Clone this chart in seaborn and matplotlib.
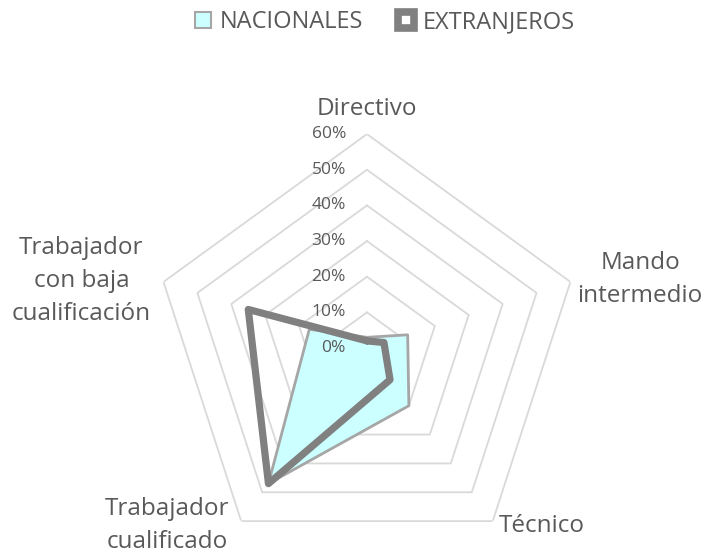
import numpy as np
import pandas as pd
import seaborn as sns
import matplotlib.pyplot as plt
from matplotlib.lines import Line2D

# %% Data
categories = ["Directivo", "Mando\nintermedio", "Técnico",
              "Trabajador\ncualificado", "Trabajador\ncon baja\ncualificación"]
nacionales = [0.03, 0.12, 0.20, 0.47, 0.17]
extranjeros = [0.02, 0.05, 0.11, 0.47, 0.35]
tick_values = [0.0, 0.1, 0.2, 0.3, 0.4, 0.5, 0.6]
tick_labels = ["0%", "10%", "20%", "30%", "40%", "50%", "60%"]

# %% Style
sns.set_theme(style="white")
plt.rcParams["font.family"] = ["Open Sans", "DejaVu Sans"]
text_col = "#595959"
grid_col = "#d9d9d9"

n = len(categories)
# clockwise from the top, like the Excel radar chart
angles = np.pi / 2 - np.arange(n) * 2 * np.pi / n
closed = np.append(angles, angles[0])

df = pd.DataFrame({
    "theta": np.tile(closed, 2),
    "r": nacionales + nacionales[:1] + extranjeros + extranjeros[:1],
    "serie": ["NACIONALES"] * (n + 1) + ["EXTRANJEROS"] * (n + 1),
})

fig = plt.figure(figsize=(7.12, 5.58), dpi=100)
ax = fig.add_axes([0.2149, -0.0072, 0.601, 0.767], projection="polar")
ax.set_ylim(0, 0.6)
ax.grid(False)
ax.spines["polar"].set_visible(False)
ax.set_xticks([])
ax.set_yticks([])

# pentagon grid
for v in tick_values[1:]:
    ax.plot(closed, [v] * (n + 1), color=grid_col, lw=1.3, zorder=1)

# tick labels left of the top axis
for v, lab in zip(tick_values, tick_labels):
    ax.annotate(lab, xy=(np.pi / 2, v), xytext=(-21, 0), textcoords="offset pixels",
                ha="right", va="center", fontsize=12.5, color=text_col)

# series
nac = df[df.serie == "NACIONALES"]
ext = df[df.serie == "EXTRANJEROS"]
ax.fill(nac.theta, nac.r, color="#ccffff", zorder=2)
sns.lineplot(data=nac, x="theta", y="r", sort=False, estimator=None,
             color="#a6a6a6", lw=2, ax=ax, zorder=3)
sns.lineplot(data=ext, x="theta", y="r", sort=False, estimator=None,
             color="#808080", lw=5.2, ax=ax, zorder=4)
ax.set_xlabel("")
ax.set_ylabel("")

# category labels
offsets = [(0, 13, "center", "bottom"), (7, 2, "left", "center"),
           (49, -5, "center", "center"), (-74, -4, "center", "center"),
           (-82, 1, "center", "center")]
for a, lab, (dx, dy, ha, va) in zip(angles, categories, offsets):
    ax.annotate(lab, xy=(a, 0.6), xytext=(dx, dy), textcoords="offset pixels",
                ha=ha, va=va, multialignment="center", fontsize=17.5,
                color=text_col, annotation_clip=False, linespacing=1.5)

handles = [
    Line2D([], [], ls="none", marker="s", markersize=12, markerfacecolor="#ccffff",
           markeredgecolor="#a6a6a6", markeredgewidth=1.5),
    Line2D([], [], ls="none", marker="s", markersize=11, markerfacecolor="white",
           markeredgecolor="#808080", markeredgewidth=5.5),
]
fig.legend(handles, ["NACIONALES", "EXTRANJEROS"], loc="center",
           bbox_to_anchor=(383 / 712, 1 - 22 / 558), ncol=2, frameon=False,
           fontsize=17, labelcolor=text_col, handletextpad=0.22,
           columnspacing=1.3, handlelength=1.0)

fig.savefig("out.png", dpi=100)
